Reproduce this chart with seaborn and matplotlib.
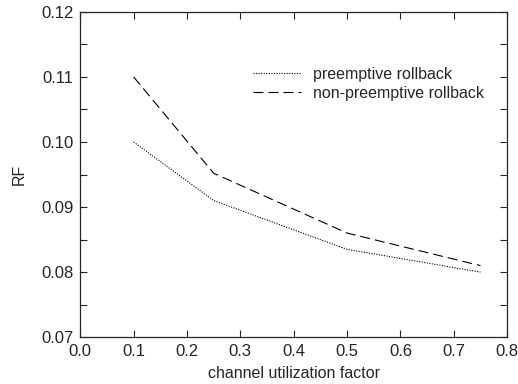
import numpy as np
import pandas as pd
import matplotlib
matplotlib.use("Agg")
import matplotlib.pyplot as plt
import seaborn as sns
from matplotlib.ticker import MultipleLocator

# values
utilization = [0.1, 0.25, 0.5, 0.75]
preemptive = [0.100, 0.091, 0.0835, 0.080]
non_preemptive = [0.110, 0.0952, 0.086, 0.081]
series_names = ["preemptive rollback", "non-preemptive rollback"]

sns.set_style("ticks")
plt.rcParams['font.family'] = ['Liberation Sans', 'DejaVu Sans']
plt.rcParams['font.size'] = 11

df = pd.DataFrame({
    'util': utilization * 2,
    'RF': preemptive + non_preemptive,
    'series': [series_names[0]] * len(utilization) + [series_names[1]] * len(utilization),
})

fig, ax = plt.subplots(figsize=(5.18, 3.84), dpi=100)
fig.subplots_adjust(left=0.155, right=0.979, top=0.969, bottom=0.122)

sns.lineplot(data=df, x='util', y='RF', hue='series', style='series',
             palette=['black', 'black'],
             dashes={series_names[0]: (1, 1.3), series_names[1]: (9, 4.5)},
             linewidth=0.8, ax=ax)

ax.set_xlim(0.0, 0.8)
ax.set_ylim(0.07, 0.12)
ax.xaxis.set_major_locator(MultipleLocator(0.1))
ax.yaxis.set_major_locator(MultipleLocator(0.01))
ax.yaxis.set_minor_locator(MultipleLocator(0.005))
ax.xaxis.set_major_formatter(plt.FuncFormatter(lambda v, p: f"{v:.1f}"))
ax.yaxis.set_major_formatter(plt.FuncFormatter(lambda v, p: f"{v:.2f}"))
ax.tick_params(which='both', direction='in', top=True, right=True, labelsize=12, width=0.8)
ax.tick_params(which='major', length=5, pad=5)
ax.tick_params(which='minor', length=5)
for s in ax.spines.values():
    s.set_linewidth(0.9)

ax.set_xlabel('channel utilization factor', fontsize=11.5, labelpad=5)
ax.set_ylabel('RF', fontsize=11.5, labelpad=10)

leg = ax.legend(title=None, frameon=False, loc='upper left',
                bbox_to_anchor=(0.372, 0.875), fontsize=11.5,
                handlelength=3.0, handletextpad=0.7, labelspacing=0.25)
for line in leg.get_lines():
    line.set_linewidth(0.8)

fig.savefig('out.png', dpi=100)
